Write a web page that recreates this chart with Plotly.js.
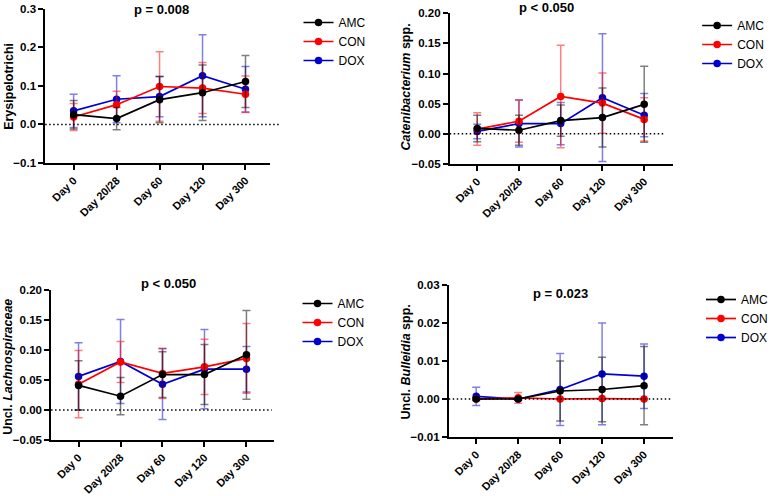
<!DOCTYPE html>
<html>
<head>
<meta charset="utf-8">
<script src="https://cdn.plot.ly/plotly-3.0.1.min.js"></script>
<style>
  body { margin: 0; background: #fff; }
  #plotlyDiv { width: 773px; height: 496px; }
</style>
</head>
<body>
<div id="plotlyDiv"></div>
<script>
// time points
var days = ["Day 0", "Day 20/28", "Day 60", "Day 120", "Day 300"];
var groups = ["AMC", "CON", "DOX"];

// Erysipelotrichi
var erysAMC = [0.025, 0.015, 0.064, 0.082, 0.111];
var erysAMCsd = [0.037, 0.029, 0.060, 0.072, 0.067];
var erysCON = [0.019, 0.051, 0.098, 0.094, 0.078];
var erysCONsd = [0.035, 0.035, 0.090, 0.066, 0.047];
var erysDOX = [0.035, 0.065, 0.072, 0.126, 0.091];
var erysDOXsd = [0.043, 0.061, 0.052, 0.106, 0.059];

// Catenibacterium spp.
var cateAMC = [0.009, 0.006, 0.022, 0.027, 0.049];
var cateAMCsd = [0.022, 0.025, 0.026, 0.049, 0.063];
var cateCON = [0.008, 0.021, 0.062, 0.051, 0.024];
var cateCONsd = [0.027, 0.035, 0.085, 0.050, 0.036];
var cateDOX = [0.004, 0.017, 0.017, 0.060, 0.031];
var cateDOXsd = [0.012, 0.039, 0.035, 0.106, 0.036];

// Uncl. Lachnospiraceae
var lachAMC = [0.041, 0.023, 0.059, 0.059, 0.092];
var lachAMCsd = [0.041, 0.031, 0.038, 0.050, 0.074];
var lachCON = [0.043, 0.080, 0.061, 0.072, 0.086];
var lachCONsd = [0.056, 0.034, 0.042, 0.046, 0.058];
var lachDOX = [0.056, 0.081, 0.043, 0.068, 0.068];
var lachDOXsd = [0.056, 0.070, 0.059, 0.066, 0.038];

// Uncl. Bulleidia spp.
var bullAMC = [0.0000, 0.0000, 0.0021, 0.0025, 0.0035];
var bullAMCsd = [0.0004, 0.0003, 0.0079, 0.0085, 0.0103];
var bullCON = [0.0000, 0.0003, 0.0000, 0.0001, 0.0000];
var bullCONsd = [0.0002, 0.0014, 0.0001, 0.0001, 0.0001];
var bullDOX = [0.0007, 0.0000, 0.0025, 0.0066, 0.0060];
var bullDOXsd = [0.0024, 0.0002, 0.0095, 0.0134, 0.0085];

var pLabels = ["p = 0.008", "p < 0.050", "p < 0.050", "p = 0.023"];
var yTitles = ["Erysipelotrichi", "<i>Catenibacterium</i> spp.",
               "Uncl. <i>Lachnospiraceae</i>", "Uncl. <i>Bulleidia</i> spp."];

var colors = {AMC: "#000000", CON: "#ff0000", DOX: "#0000d0"};
var errColors = {AMC: "rgba(0,0,0,0.5)", CON: "rgba(255,0,0,0.5)", DOX: "rgba(0,0,208,0.5)"};

var panels = [
    {mean: {AMC: erysAMC, CON: erysCON, DOX: erysDOX}, sd: {AMC: erysAMCsd, CON: erysCONsd, DOX: erysDOXsd}},
    {mean: {AMC: cateAMC, CON: cateCON, DOX: cateDOX}, sd: {AMC: cateAMCsd, CON: cateCONsd, DOX: cateDOXsd}},
    {mean: {AMC: lachAMC, CON: lachCON, DOX: lachDOX}, sd: {AMC: lachAMCsd, CON: lachCONsd, DOX: lachDOXsd}},
    {mean: {AMC: bullAMC, CON: bullCON, DOX: bullDOX}, sd: {AMC: bullAMCsd, CON: bullCONsd, DOX: bullDOXsd}}
];

var W = 773, H = 496;
function px(v) { return v / W; }
function py(v) { return 1 - v / H; }

// pixel boxes of the four plot areas
var boxes = [
    {l: 46, r: 275, t: 8.5, b: 163, xr: [-0.663, 4.571], yr: [-0.1, 0.3], dt: 0.1, fmt: ".1f", dotEnd: 1.045},
    {l: 458, r: 685, t: 13.3, b: 164, xr: [-0.659, 4.68], yr: [-0.05, 0.2], dt: 0.05, fmt: ".2f", dotEnd: 0.96},
    {l: 52, r: 279, t: 290, b: 440, xr: [-0.655, 4.655], yr: [-0.05, 0.2], dt: 0.05, fmt: ".2f", dotEnd: 0.99},
    {l: 457, r: 685, t: 285, b: 437, xr: [-0.655, 4.68], yr: [-0.01, 0.03], dt: 0.01, fmt: ".2f", dotEnd: 0.99}
];
var titlePos = [[164, 9], [557, 7], [172, 283], [571, 293]];
var yTitlePos = [[9, 86], [413, 87], [8, 367], [413, 362]];
var legendPos = [[304, 8], [710, 11], [303, 289], [714, 285]];

var font = "Arial, 'Liberation Sans', sans-serif";
var data = [];
var layout = {
    width: W, height: H,
    margin: {l: 0, r: 0, t: 0, b: 0},
    paper_bgcolor: "#ffffff",
    plot_bgcolor: "rgba(0,0,0,0)",
    font: {family: font, color: "#000000"},
    showlegend: true,
    annotations: [],
    shapes: []
};

panels.forEach(function (p, i) {
    var n = i + 1;
    var xa = "x" + (n === 1 ? "" : n), ya = "y" + (n === 1 ? "" : n);
    var legName = "legend" + (n === 1 ? "" : n);
    // draw DOX first so AMC ends up on top
    ["DOX", "CON", "AMC"].forEach(function (g) {
        data.push({
            type: "scatter",
            mode: "lines+markers",
            name: g,
            x: days,
            y: p.mean[g],
            xaxis: xa, yaxis: ya,
            legend: legName,
            line: {color: colors[g], width: 1.7},
            marker: {color: colors[g], size: 7.5},
            error_y: {type: "data", array: p.sd[g], visible: true,
                      color: errColors[g], thickness: 1.5, width: 4},
            cliponaxis: false
        });
    });

    var b = boxes[i];
    layout["xaxis" + (n === 1 ? "" : n)] = {
        domain: [px(b.l), px(b.r)],
        anchor: ya,
        type: "category",
        range: b.xr,
        showgrid: false, zeroline: false,
        showline: true, linecolor: "#000", linewidth: 1.6,
        ticks: "outside", ticklen: 5, tickwidth: 1.6, tickcolor: "#000",
        tickangle: -45,
        ticklabelstandoff: 0,
        tickfont: {family: font, size: 11, weight: "bold", color: "#000"}
    };
    layout["yaxis" + (n === 1 ? "" : n)] = {
        domain: [py(b.b), py(b.t)],
        anchor: xa,
        range: b.yr,
        dtick: b.dt,
        tick0: 0,
        tickformat: b.fmt,
        showgrid: false, zeroline: false,
        showline: true, linecolor: "#000", linewidth: 1.6,
        ticks: "outside", ticklen: 5, tickwidth: 1.6, tickcolor: "#000",
        tickfont: {family: font, size: 11.5, weight: "bold", color: "#000"}
    };
    layout[legName] = {
        x: px(legendPos[i][0]), y: py(legendPos[i][1]),
        xanchor: "left", yanchor: "top",
        bgcolor: "rgba(0,0,0,0)",
        traceorder: "reversed",
        font: {family: font, size: 12, color: "#000"}
    };
    layout.annotations.push({
        text: "<b>" + pLabels[i] + "</b>",
        xref: "paper", yref: "paper",
        x: px(titlePos[i][0]), y: py(titlePos[i][1]),
        xanchor: "center", yanchor: "middle",
        showarrow: false,
        font: {family: font, size: 13, color: "#000"}
    });
    layout.annotations.push({
        text: "<b>" + yTitles[i] + "</b>",
        xref: "paper", yref: "paper",
        x: px(yTitlePos[i][0]), y: py(yTitlePos[i][1]),
        xanchor: "center", yanchor: "middle",
        textangle: -90,
        showarrow: false,
        font: {family: font, size: 12.5, color: "#000"}
    });
    // dotted zero line
    layout.shapes.push({
        type: "line",
        xref: xa + " domain", yref: ya,
        x0: 0, x1: b.dotEnd, y0: 0, y1: 0,
        line: {color: "#000", width: 1.5, dash: "1.5px,2.5px"}
    });
});

Plotly.newPlot("plotlyDiv", data, layout, {displayModeBar: false});
</script>
</body>
</html>
